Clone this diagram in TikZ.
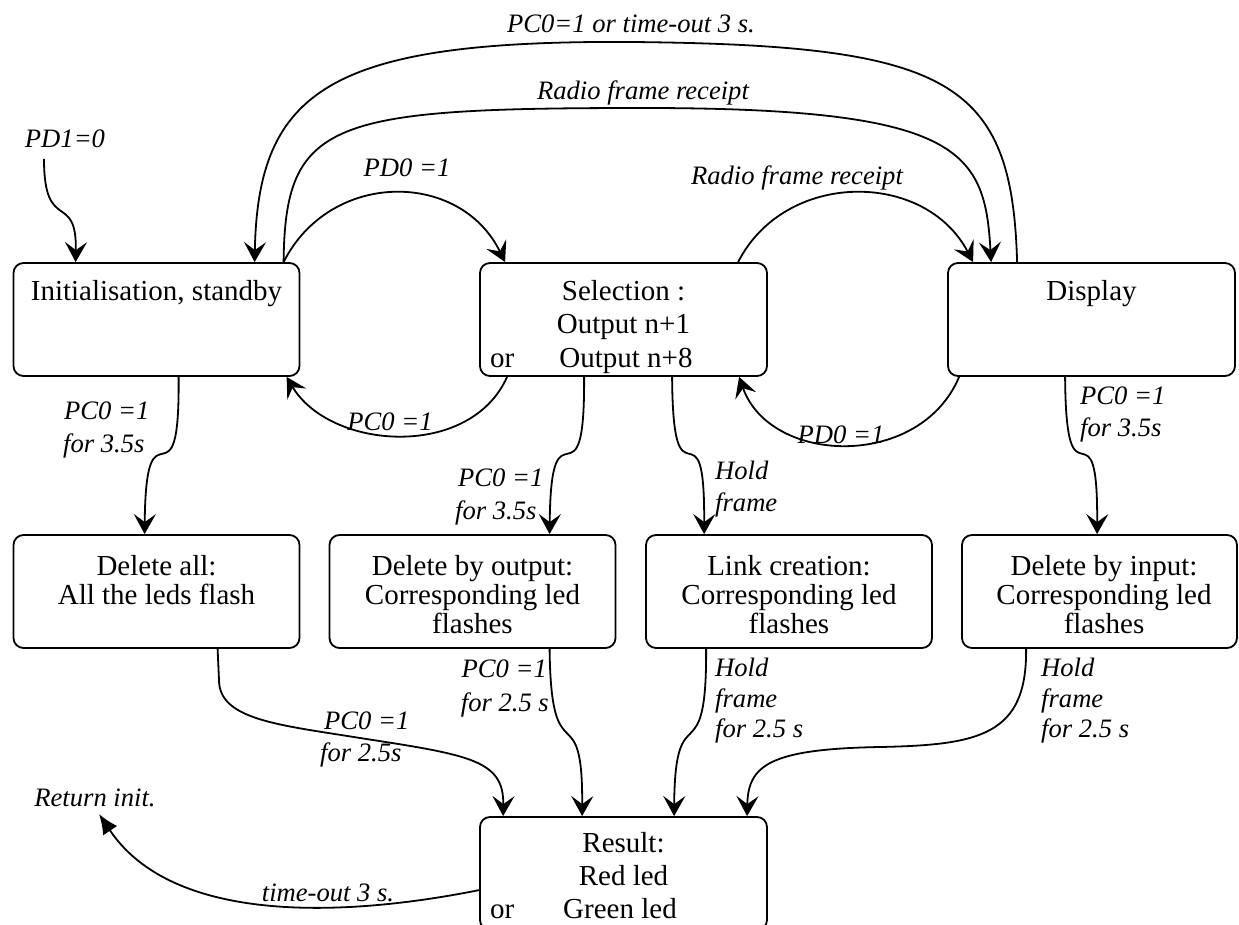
\documentclass[tikz,border=0pt]{standalone}
\usepackage{fontspec}
\setmainfont{Liberation Serif}
\usetikzlibrary{arrows.meta,calc}
\begin{document}
\begin{tikzpicture}[x=1pt,y=-1pt,
  box/.style={draw,line width=1.8pt,rounded corners=10pt,minimum width=286pt,minimum height=113pt,inner sep=0pt},
  btxt/.style={font=\fontsize{29}{33.5}\selectfont,inner sep=0pt,anchor=base},
  btxtw/.style={btxt,anchor=base west},
  lbl/.style={font=\fontsize{26.6}{31}\selectfont\itshape,inner sep=0pt,anchor=base},
  lblw/.style={lbl,anchor=base west},
  lble/.style={lbl,anchor=base east},
  conn/.style={line width=1.8pt,-{Stealth[length=20pt,width=22pt,inset=8pt]}},
  retarr/.style={line width=1.8pt,-{Latex[length=20pt,width=17pt]}}
]
\useasboundingbox (0,0) rectangle (1239,925);
\clip (0,0) rectangle (1239,925);
% boxes
\node[box] (init) at (156.5,319.5) {};
\node[box,minimum width=287pt] (sel) at (623.5,319.5) {};
\node[box,minimum width=287pt] (disp) at (1091.5,319.5) {};
\node[box] (dall) at (156.5,591.5) {};
\node[box] (dout) at (472.5,591.5) {};
\node[box] (link) at (789,591.5) {};
\node[box,minimum width=275pt] (dinp) at (1099.5,591.5) {};
\node[box,minimum width=287pt] (res) at (623.5,873.5) {};
% box texts
\node[btxt] (tinit) at (156.5,300) {Initialisation, standby};
\node[btxt] (tsel1) at (623.5,300) {Selection :};
\node[btxt] (tsel2) at (623.5,333) {Output n+1};
\node[btxt] (tsel3) at (626,367) {Output n+8};
\node[btxtw] (tselor) at (490,367) {or};
\node[btxt] (tdisp) at (1091.5,300) {Display};
\node[btxt] (tdall1) at (156.5,575) {Delete all:};
\node[btxt] (tdall2) at (156.5,604) {All the leds flash};
\node[btxt] (tdout1) at (472.5,575) {Delete by output:};
\node[btxt] (tdout2) at (472.5,604) {Corresponding led};
\node[btxt] (tdout3) at (472.5,633) {flashes};
\node[btxt] (tlink1) at (789,575) {Link creation:};
\node[btxt] (tlink2) at (789,604) {Corresponding led};
\node[btxt] (tlink3) at (789,633) {flashes};
\node[btxt] (tdinp1) at (1104,575) {Delete by input:};
\node[btxt] (tdinp2) at (1104,604) {Corresponding led};
\node[btxt] (tdinp3) at (1104,633) {flashes};
\node[btxt] (tres1) at (623.5,852) {Result:};
\node[btxt] (tres2) at (623.5,885) {Red led};
\node[btxt] (tres3) at (620,918) {Green led};
\node[btxtw] (tresor) at (490,918) {or};
% connectors
\coordinate (pd1) at (44,159);
\draw[conn] (pd1) .. controls (44,235) and (77,190) .. ($(init.north west)+(63,0)$);
\draw[conn] ($(disp.north west)+(70,0)$) .. controls (1012,80) and (950,45) .. (631,42)
   .. controls (330,40) and (258,90) .. ($(init.north west)+(242,0)$);
\draw[conn] ($(init.north west)+(271,0)$) .. controls (285,120) and (330,108) .. (643,108)
   .. controls (960,108) and (985,150) .. ($(disp.north west)+(44,0)$);
\draw[conn] ($(init.north west)+(271,0)$) .. controls (330,170) and (460,170) .. ($(sel.north west)+(26,0)$);
\draw[conn] ($(sel.north west)+(259,0)$) .. controls (785,170) and (925,170) .. ($(disp.north west)+(26,0)$);
\draw[conn] ($(sel.south west)+(28,0)$) .. controls (470,460) and (330,450) .. ($(init.south west)+(274,0)$);
\draw[conn] ($(disp.south west)+(12,0)$) .. controls (920,470) and (770,465) .. ($(sel.south west)+(260,0)$);
\draw[conn] ($(init.south west)+(166,0)$) .. controls (180,520) and (146,390) .. ($(dall.north west)+(132,0)$);
\draw[conn] ($(sel.south west)+(105,0)$) .. controls (585,520) and (551,390) .. ($(dout.north west)+(221,0)$);
\draw[conn] ($(sel.south west)+(193,0)$) .. controls (673,520) and (705,390) .. ($(link.north west)+(59,0)$);
\draw[conn] ($(disp.south west)+(118,0)$) .. controls (1066,520) and (1098,390) .. ($(dinp.north west)+(136,0)$);
\draw[conn] ($(dall.south west)+(205,0)$) -- (219,680) .. controls (219,720) and (280,725) .. (360,738)
   .. controls (470,755) and (504,760) .. ($(res.north west)+(24,0)$);
\draw[conn] ($(dout.south west)+(221,0)$) .. controls (551,780) and (583,690) .. ($(res.north west)+(103,0)$);
\draw[conn] ($(link.south west)+(61,0)$) .. controls (707,780) and (675,690) .. ($(res.north west)+(195,0)$);
\draw[conn] ($(dinp.south west)+(65,0)$) .. controls (1027,735) and (980,745) .. (880,747)
   .. controls (770,749) and (748,765) .. ($(res.north west)+(268,0)$);
\coordinate (ret) at (99,814);
\draw[retarr] ($(res.north west)+(0,74)$) .. controls (380,910) and (180,935) .. (ret);
% labels
\node[lbl] (l1) at (631,33) {PC0=1 or time-out 3 s.};
\node[lbl] (l2) at (643,100) {Radio frame receipt};
\node[lbl] (l3) at (65,148) {PD1=0};
\node[lbl] (l4) at (407,177) {PD0 =1};
\node[lbl] (l5) at (797,185) {Radio frame receipt};
\node[lbl] (l6) at (390,430) {PC0 =1};
\node[lbl] (l7) at (841,443) {PD0 =1};
\node[lblw] (l8a) at (64,419) {PC0 =1};
\node[lblw] (l8b) at (63,452) {for 3.5s};
\node[lblw] (l9a) at (458,486) {PC0 =1};
\node[lblw] (l9b) at (455,519) {for 3.5s};
\node[lblw] (l10a) at (715,479) {Hold};
\node[lblw] (l10b) at (715,511) {frame};
\node[lblw] (l11a) at (1080,404) {PC0 =1};
\node[lblw] (l11b) at (1080,436) {for 3.5s};
\node[lblw] (l12a) at (324,729) {PC0 =1};
\node[lblw] (l12b) at (320,761) {for 2.5s};
\node[lble] (l13a) at (547,677) {PC0 =1};
\node[lble] (l13b) at (549,711) {for 2.5 s};
\node[lblw] (l14a) at (715,676) {Hold};
\node[lblw] (l14b) at (715,707) {frame};
\node[lblw] (l14c) at (715,737) {for 2.5 s};
\node[lblw] (l15a) at (1041,676) {Hold};
\node[lblw] (l15b) at (1041,707) {frame};
\node[lblw] (l15c) at (1041,737) {for 2.5 s};
\node[lbl] (l16) at (95,806) {Return init.};
\node[lbl] (l17) at (328,901) {time-out 3 s.};
\end{tikzpicture}
\end{document}
